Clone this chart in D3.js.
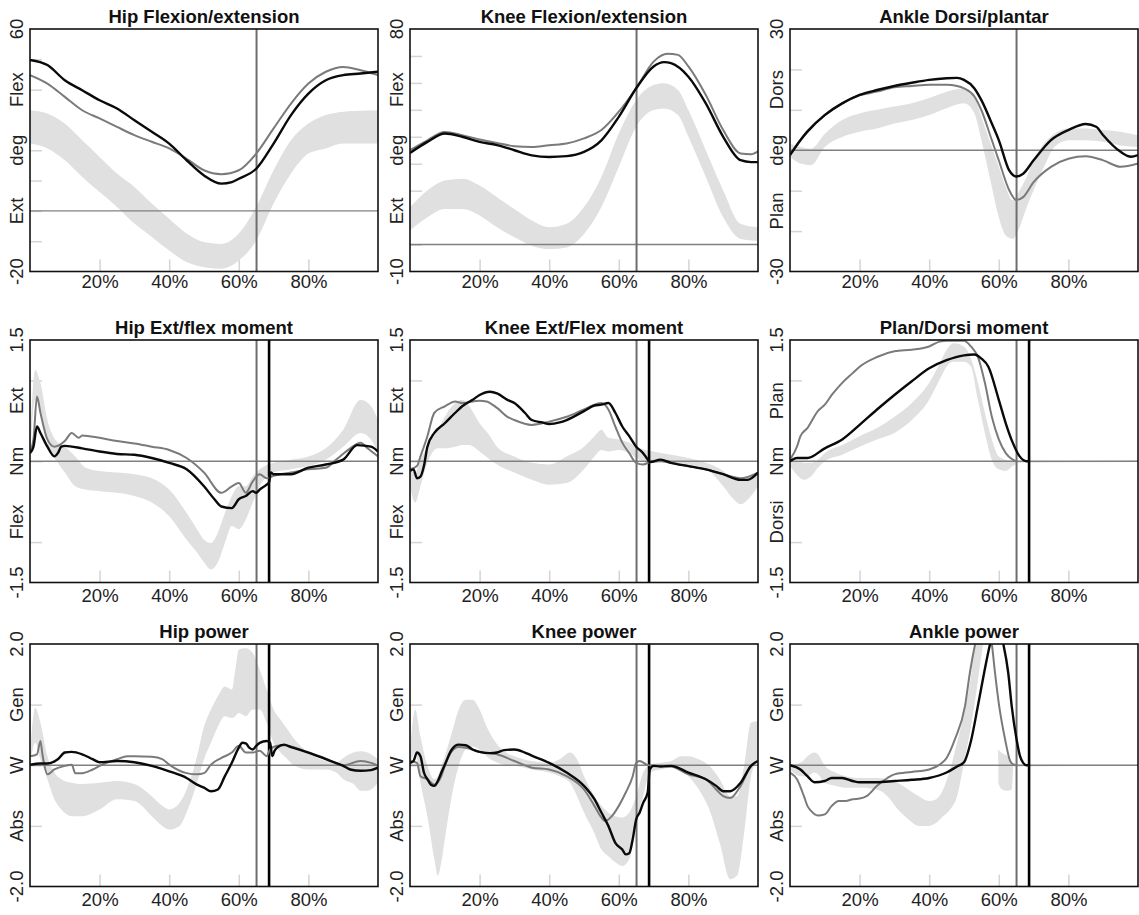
<!DOCTYPE html>
<html>
<head>
<meta charset="utf-8">
<script src="https://cdn.jsdelivr.net/npm/d3@7"></script>
<style>
  body { margin: 0; background: #fff; }
  svg { display: block; }
  text { font-family: "Liberation Sans", Arial, Helvetica, sans-serif; }
</style>
</head>
<body>
<svg id="chart" width="1139" height="915"></svg>
<script>
// ---- Gait cycle data: x = % of gait cycle ----
// Bands are [x, lower, upper] of the normative range; lines are [x, value].

const titles = [
  "Hip Flexion/extension", "Knee Flexion/extension", "Ankle Dorsi/plantar",
  "Hip Ext/flex moment", "Knee Ext/Flex moment", "Plan/Dorsi moment",
  "Hip power", "Knee power", "Ankle power"
];

const xTickValues = [20, 40, 60, 80];
const xTickLabels = ["20%", "40%", "60%", "80%"];

// y labels from top to bottom of each panel
const hipFlexLabels   = ["60", "Flex", "deg", "Ext", "-20"];
const kneeFlexLabels  = ["80", "Flex", "deg", "Ext", "-10"];
const ankleFlexLabels = ["30", "Dors", "deg", "Plan", "-30"];
const hipMomLabels    = ["1.5", "Ext", "Nm", "Flex", "-1.5"];
const kneeMomLabels   = ["1.5", "Ext", "Nm", "Flex", "-1.5"];
const ankleMomLabels  = ["1.5", "Plan", "Nm", "Dorsi", "-1.5"];
const powerLabels     = ["2.0", "Gen", "W", "Abs", "-2.0"];

const hipFlexDomain = [-20, 60], kneeFlexDomain = [-10, 80], ankleFlexDomain = [-30, 30];
const momentDomain = [-1.5, 1.5], powerDomain = [-2, 2];

const hipFlexTicks = [-10, 0, 10, 20, 30, 40, 50];
const kneeFlexTicks = [0, 10, 20, 30, 40, 50, 60, 70];
const ankleFlexTicks = [-20, -10, 0, 10, 20];
const momentTicks = [-1, 0, 1];
const powerTicks = [-1, 0, 1];

// events (% gait cycle): toe-off of the two trials
const toeOffGray = 65.1;
const toeOffBlack = 68.7;

// ---- Hip flexion/extension (deg) ----
const hipFlexBand = [
  [0,22.2,33.2],[5,20.6,32.1],[10,16.7,28.8],[15,11.2,23.3],[20,6.2,17.8],[25,1.3,12.3],
  [30,-4.2,7.9],[35,-8.6,2.4],[40,-13.1,-2.6],[45,-16.9,-7.5],[50,-18.6,-10.3],[55,-19.1,-10.9],
  [60,-16.4,-7.5],[65,-9.8,1.3],[70,2.4,13.4],[75,12.3,23.3],[80,18.9,28.8],[85,20.6,31.6],
  [90,22.2,32.7],[95,22.2,33.0],[100,22.2,33.2]
];
const hipFlexBlack = [
  [0,49.8],[5,48.1],[10,43.1],[15,39.8],[20,36.5],[25,33.8],[30,29.9],[35,26.1],[40,22.2],
  [45,16.7],[50,11.7],[55,9.0],[58,9.5],[60,10.6],[65,13.9],[70,22.2],[75,31.6],[80,38.7],
  [85,43.1],[90,44.8],[95,45.3],[100,45.9]
];
const hipFlexGray = [
  [0,44.8],[5,42.0],[10,37.6],[15,33.2],[20,30.5],[25,27.7],[30,25.0],[35,22.8],[40,20.6],
  [45,17.2],[50,13.4],[55,12.1],[60,13.4],[65,18.9],[70,27.2],[75,35.4],[80,42.0],[85,45.9],
  [90,47.5],[95,46.4],[100,44.8]
];

// ---- Knee flexion/extension (deg) ----
const kneeFlexBand = [
  [0,5.2,13.9],[5,10.1,20.1],[10,13.2,23.8],[15,13.2,24.4],[20,10.8,21.9],[25,6.4,17.6],
  [30,2.7,13.2],[35,-0.4,8.9],[40,-1.7,6.4],[45,-1.1,7.7],[50,3.9,13.9],[55,13.9,25.1],
  [60,28.8,41.2],[65,43.7,53.6],[70,49.9,59.2],[73,50.5,59.9],[77,48.1,57.4],[80,40.0,49.9],
  [85,25.1,35.0],[90,10.1,20.1],[95,2.1,7.7],[100,1.4,6.4]
];
const kneeFlexBlack = [
  [0,34.0],[5,38.1],[10,41.2],[15,40.0],[20,38.1],[25,36.9],[30,35.0],[35,33.1],[40,32.5],
  [45,32.8],[50,34.4],[55,38.7],[60,47.4],[65,58.0],[70,66.1],[73,67.7],[75,67.3],[80,62.3],
  [85,52.4],[90,40.0],[95,31.3],[98,30.6],[100,30.6]
];
const kneeFlexGray = [
  [0,35.0],[5,38.7],[10,41.8],[15,40.6],[20,39.0],[25,37.7],[30,36.5],[35,36.2],[40,36.9],
  [45,37.5],[50,39.4],[55,42.5],[60,49.3],[65,58.0],[70,67.9],[74,70.8],[77,70.4],[80,66.1],
  [85,55.5],[90,42.5],[95,33.8],[98,33.5],[100,34.6]
];

// ---- Ankle dorsi/plantar flexion (deg) ----
const ankleFlexBand = [
  [0,-1.6,1.7],[3,-3.3,0.8],[6,-3.7,0.4],[10,0.8,4.1],[15,3.3,7.5],[20,4.6,9.1],[25,5.4,10.0],
  [30,6.6,10.8],[35,7.5,11.6],[40,8.7,12.9],[45,10.4,14.5],[50,11.6,15.3],[53,9.1,13.3],
  [55,2.5,8.3],[58,-9.1,0.8],[60,-16.6,-4.1],[62,-21.1,-9.1],[64,-21.9,-12.4],[66,-19.0,-9.9],
  [68,-14.1,-6.6],[70,-9.9,-2.5],[73,-4.1,1.7],[76,0.8,4.1],[80,2.5,5.4],[85,2.5,5.4],
  [90,2.1,5.0],[95,1.2,4.6],[100,0.8,3.7]
];
const ankleFlexBlack = [
  [0,-1.2],[3,2.5],[5,4.6],[10,8.7],[15,11.6],[20,13.7],[25,14.9],[30,15.9],[35,16.7],
  [40,17.4],[45,17.8],[48,17.9],[50,17.4],[53,15.3],[55,12.4],[58,6.6],[60,2.5],[63,-5.0],
  [65,-6.5],[67,-5.8],[70,-2.5],[75,2.5],[80,5.0],[85,6.5],[88,5.8],[90,3.7],[95,-0.4],
  [98,-1.6],[100,-1.2]
];
const ankleFlexGray = [
  [0,-1.0],[3,2.6],[5,4.7],[10,8.8],[15,11.6],[20,13.6],[25,14.5],[30,15.6],[35,15.9],
  [40,16.2],[45,16.2],[48,15.9],[50,15.3],[53,13.3],[55,9.9],[58,2.5],[60,-2.5],[63,-9.9],
  [65,-12.3],[67,-11.6],[70,-7.9],[75,-4.1],[80,-2.1],[85,-1.5],[90,-2.5],[95,-4.1],[100,-3.3]
];

// ---- Hip extension/flexion moment (Nm) ----
const hipMomBand = [
  [0,0.06,0.27],[1.5,0.76,1.13],[3,0.64,0.97],[5,0.23,0.51],[8,-0.02,0.23],[10,-0.14,0.18],
  [13,-0.31,0.06],[16,-0.35,-0.08],[20,-0.37,-0.12],[25,-0.39,-0.14],[30,-0.43,-0.16],
  [35,-0.51,-0.21],[40,-0.68,-0.35],[45,-0.97,-0.64],[48,-1.13,-0.84],[50,-1.25,-0.97],
  [52,-1.34,-1.01],[54,-1.25,-0.88],[56,-1.01,-0.64],[58,-0.80,-0.43],[60,-0.84,-0.31],
  [62,-0.72,-0.31],[64,-0.51,-0.19],[66,-0.31,-0.10],[70,-0.14,-0.02],[75,-0.10,0.02],
  [80,-0.06,0.06],[85,0.02,0.16],[90,0.18,0.39],[95,0.35,0.76],[98,0.27,0.68],[100,0.10,0.51]
];
const hipMomBlack = [
  [0,0.10],[1,0.18],[2,0.43],[3,0.35],[5,0.18],[7,0.06],[8,0.10],[9,0.18],[10,0.19],[15,0.16],
  [20,0.12],[25,0.09],[30,0.08],[35,0.04],[40,-0.02],[45,-0.10],[50,-0.31],[53,-0.47],
  [55,-0.56],[58,-0.58],[60,-0.47],[62,-0.43],[64,-0.37],[65,-0.39],[66,-0.35],[68,-0.29],
  [68.7,-0.26],[69.2,-0.14],[70,-0.16],[75,-0.16],[80,-0.08],[85,-0.04],[90,0.02],[94,0.20],
  [98,0.18],[100,0.12]
];
const hipMomGray = [
  [0,0.12],[1,0.27],[2,0.80],[3,0.60],[5,0.27],[7,0.18],[10,0.25],[12,0.35],[14,0.29],
  [15,0.32],[20,0.29],[25,0.25],[30,0.22],[35,0.18],[40,0.14],[45,0.04],[50,-0.14],
  [55,-0.39],[58,-0.31],[60,-0.27],[62,-0.39],[64,-0.25],[66,-0.16],[68,-0.21],[70,-0.18],
  [75,-0.14],[80,-0.10],[85,-0.08],[88,0.02],[92,0.16],[95,0.23],[97,0.16],[100,0.06]
];

// ---- Knee extension/flexion moment (Nm) ----
const kneeMomBand = [
  [0,-0.31,-0.10],[1.5,-0.51,-0.14],[3,-0.31,0.02],[5,-0.02,0.18],[8,0.16,0.39],[10,0.16,0.55],
  [13,0.18,0.72],[15,0.20,0.76],[17,0.20,0.68],[20,0.12,0.47],[23,0.02,0.31],[25,-0.04,0.18],
  [30,-0.14,0.06],[35,-0.23,-0.02],[40,-0.29,-0.04],[45,-0.27,0.06],[50,-0.10,0.18],
  [53,0.06,0.31],[55,0.14,0.39],[57,0.12,0.29],[60,0.14,0.27],[63,0.10,0.23],[66,0.02,0.16],
  [70,0.00,0.12],[75,-0.02,0.08],[80,-0.06,0.04],[85,-0.10,-0.02],[90,-0.31,-0.12],
  [93,-0.47,-0.23],[95,-0.53,-0.23],[98,-0.43,-0.19],[100,-0.31,-0.14]
];
const kneeMomBlack = [
  [0,-0.12],[1,-0.10],[2,-0.21],[3,-0.19],[4,-0.06],[5,0.18],[7,0.35],[10,0.47],[13,0.60],
  [15,0.68],[18,0.76],[20,0.82],[23,0.86],[25,0.84],[28,0.76],[30,0.72],[33,0.60],[35,0.51],
  [38,0.48],[40,0.46],[43,0.48],[45,0.51],[50,0.62],[53,0.69],[55,0.70],[57,0.72],[59,0.60],
  [61,0.43],[63,0.31],[65,0.18],[67,0.10],[68,0.04],[69,-0.01],[72,0.02],[75,-0.02],
  [80,-0.06],[85,-0.10],[90,-0.16],[95,-0.23],[97,-0.23],[100,-0.14]
];
const kneeMomGray = [
  [0,-0.10],[2,-0.06],[3,0.06],[5,0.31],[7,0.60],[10,0.68],[13,0.74],[15,0.72],[20,0.75],
  [22,0.74],[25,0.66],[28,0.55],[30,0.51],[35,0.45],[40,0.49],[45,0.55],[50,0.64],[55,0.72],
  [57,0.64],[59,0.43],[61,0.23],[63,0.10],[65,-0.02],[67,-0.04],[69,-0.01],[72,0.00],
  [75,-0.02],[80,-0.06],[85,-0.10],[90,-0.16],[95,-0.21],[100,-0.14]
];

// ---- Ankle plantar/dorsi flexion moment (Nm); traces stop once the foot is off the ground ----
const ankleMomBand = [
  [0,-0.06,0.02],[2,-0.17,0.00],[4,-0.23,-0.02],[6,-0.19,-0.02],[8,-0.08,0.02],[10,0.00,0.10],
  [15,0.08,0.20],[20,0.18,0.31],[25,0.27,0.41],[30,0.35,0.55],[35,0.51,0.72],[40,0.76,0.97],
  [43,1.01,1.21],[45,1.17,1.38],[47,1.23,1.46],[50,1.23,1.42],[52,1.17,1.27],[54,0.76,0.97],
  [56,0.35,0.60],[58,0.02,0.27],[60,-0.10,0.06],[62,-0.12,0.02],[64,-0.06,0.00],
  [66,-0.02,0.00],[100,-0.01,0.01]
];
const ankleMomBlack = [
  [0,0.00],[2,0.04],[5,0.04],[10,0.16],[15,0.27],[20,0.45],[25,0.64],[30,0.82],[35,0.99],
  [40,1.15],[45,1.25],[50,1.31],[53,1.32],[55,1.27],[57,1.17],[60,0.76],[62,0.47],[64,0.23],
  [66,0.06],[68,0.00],[68.7,0.00]
];
const ankleMomGray = [
  [0,0.02],[2,0.18],[3,0.31],[5,0.41],[8,0.62],[10,0.70],[12,0.82],[15,0.97],[18,1.09],
  [20,1.17],[25,1.29],[30,1.36],[35,1.38],[40,1.42],[43,1.48],[45,1.49],[50,1.49],[52,1.42],
  [54,1.29],[56,0.97],[58,0.55],[60,0.27],[62,0.10],[64,0.02],[65.1,0.00]
];

// ---- Hip power (W) ----
const hipPowBand = [
  [0,-0.01,0.21],[1.5,0.37,0.95],[3,0.10,0.70],[5,-0.23,0.15],[7,-0.56,-0.12],[9,-0.73,-0.23],
  [12,-0.84,-0.29],[15,-0.84,-0.31],[20,-0.73,-0.29],[25,-0.56,-0.26],[30,-0.59,-0.31],
  [35,-0.84,-0.51],[38,-1.00,-0.67],[40,-1.06,-0.73],[43,-1.00,-0.62],[45,-0.78,-0.40],
  [48,-0.29,0.15],[50,0.10,0.64],[52,0.37,0.92],[54,0.64,1.14],[56,0.81,1.30],[58,0.78,1.25],
  [59,0.81,1.58],[60,0.86,1.91],[62,0.81,1.93],[64,0.92,1.85],[66,0.92,1.58],[68,0.70,1.25],
  [70,0.37,0.92],[72,0.21,0.75],[74,0.10,0.59],[76,-0.01,0.43],[80,-0.07,0.21],[85,-0.07,0.07],
  [88,-0.12,0.04],[90,-0.23,0.12],[93,-0.31,0.21],[95,-0.42,0.23],[97,-0.42,0.21],[100,-0.29,0.10]
];
const hipPowBlack = [
  [0,0.01],[3,0.03],[5,0.03],[8,0.10],[10,0.21],[12,0.22],[15,0.18],[18,0.10],[20,0.05],
  [25,0.07],[30,0.05],[35,-0.01],[40,-0.10],[45,-0.21],[48,-0.32],[50,-0.37],[52,-0.43],
  [54,-0.40],[56,-0.18],[58,0.04],[60,0.29],[61,0.37],[62,0.36],[63,0.29],[64,0.26],[65,0.32],
  [66,0.37],[68,0.40],[69,0.37],[69.6,0.15],[70.3,0.24],[71,0.29],[73,0.34],[75,0.30],
  [80,0.21],[85,0.10],[90,-0.01],[92,-0.07],[95,-0.09],[98,-0.08],[100,-0.04]
];
const hipPowGray = [
  [0,0.15],[2,0.18],[3,0.40],[3.5,0.21],[4,0.04],[5,-0.15],[7,-0.07],[10,-0.01],[12,0.01],
  [13,-0.13],[15,-0.13],[18,-0.07],[20,-0.01],[25,0.10],[28,0.15],[30,0.15],[35,0.14],
  [38,0.10],[40,0.01],[45,-0.13],[48,-0.15],[50,-0.13],[52,0.01],[55,0.12],[58,0.21],
  [60,0.32],[62,0.21],[64,0.21],[66,0.24],[68,0.15],[69,0.26],[71,0.32],[73,0.33],[75,0.31],
  [80,0.21],[85,0.11],[90,0.00],[95,0.07],[98,0.04],[100,-0.01]
];

// ---- Knee power (W) ----
const kneePowBand = [
  [0,-0.01,0.26],[1.5,0.21,0.92],[3,-0.29,0.48],[5,-0.84,-0.01],[7,-1.55,-0.23],[8,-1.82,-0.18],
  [9,-1.60,-0.01],[10,-1.22,0.15],[12,-0.51,0.53],[14,-0.01,0.92],[16,0.26,1.08],[18,0.31,1.08],
  [20,0.26,0.92],[22,0.15,0.64],[24,0.07,0.43],[27,0.01,0.23],[30,-0.01,0.15],[35,-0.07,0.07],
  [40,-0.12,0.04],[43,-0.18,0.10],[46,-0.29,0.21],[48,-0.51,0.10],[50,-0.78,-0.18],
  [53,-1.12,-0.51],[55,-1.39,-0.67],[57,-1.50,-0.78],[59,-1.60,-0.84],[61,-1.66,-0.86],
  [63,-1.55,-0.78],[65,-1.00,-0.51],[67,-0.51,-0.12],[69,-0.12,0.01],[72,-0.07,0.04],
  [75,-0.04,0.07],[78,-0.07,0.15],[80,-0.18,0.15],[83,-0.40,0.10],[86,-0.73,-0.01],
  [89,-1.28,-0.23],[92,-1.88,-0.51],[94,-1.82,-0.51],[96,-1.12,-0.01],[98,-0.18,0.70],
  [100,0.10,0.73]
];
const kneePowBlack = [
  [0,0.04],[1,0.07],[2,0.21],[3,0.15],[4,-0.12],[5,-0.23],[6,-0.32],[7,-0.34],[8,-0.26],
  [9,-0.12],[10,0.01],[12,0.26],[14,0.34],[16,0.33],[18,0.26],[20,0.22],[23,0.20],[25,0.21],
  [27,0.25],[30,0.26],[33,0.21],[35,0.16],[40,0.04],[45,-0.12],[50,-0.34],[53,-0.56],
  [55,-0.78],[57,-1.00],[59,-1.28],[61,-1.39],[62,-1.47],[63,-1.45],[64,-1.22],[65,-0.89],
  [66,-0.78],[67,-0.62],[68.3,-0.45],[68.9,-0.07],[70,-0.01],[72,-0.02],[75,-0.01],[80,-0.12],
  [85,-0.23],[88,-0.34],[90,-0.43],[92,-0.43],[95,-0.29],[98,-0.01],[100,0.07]
];
const kneePowGray = [
  [0,0.07],[2,0.04],[3,-0.18],[5,-0.23],[7,-0.32],[9,-0.18],[10,-0.01],[12,0.23],[14,0.30],
  [16,0.29],[20,0.22],[25,0.18],[30,0.07],[35,-0.04],[40,-0.07],[45,-0.18],[50,-0.40],
  [53,-0.67],[55,-0.86],[56,-0.92],[58,-0.84],[60,-0.67],[62,-0.45],[64,-0.18],[65,0.04],
  [66,0.07],[68,0.01],[70,-0.01],[75,-0.02],[80,-0.15],[85,-0.23],[88,-0.40],[90,-0.51],
  [92,-0.54],[95,-0.34],[98,-0.01],[100,0.07]
];

// ---- Ankle power (W); traces stop once the foot is off the ground ----
const anklePowBand = [
  [0,-0.07,0.01],[3,-0.18,0.04],[5,-0.18,0.15],[7,-0.12,0.21],[8,-0.15,0.18],[10,-0.29,-0.01],
  [13,-0.34,-0.12],[16,-0.37,-0.18],[20,-0.37,-0.21],[25,-0.40,-0.21],[28,-0.51,-0.23],
  [31,-0.73,-0.29],[34,-0.89,-0.40],[37,-1.00,-0.51],[40,-1.00,-0.59],[42,-0.95,-0.56],
  [44,-0.84,-0.40],[46,-0.73,-0.07],[48,-0.51,0.37],[50,0.04,0.86],[52,0.64,1.47],
  [53.5,1.19,2.2],[55,1.8,2.6],[56,2.1,2.8],[59.3,2.1,2.6],[59.8,2.05,2.1],[59.9,-0.30,0.26],
  [61,-0.40,0.20],[62.5,-0.42,0.15],[63.7,-0.40,0.05],[64.2,-0.02,0.01],[100,-0.01,0.01]
];
const anklePowBlack = [
  [0,0.00],[3,-0.07],[5,-0.18],[7,-0.28],[10,-0.26],[12,-0.21],[15,-0.21],[18,-0.26],
  [20,-0.28],[25,-0.28],[30,-0.26],[35,-0.24],[40,-0.21],[45,-0.12],[48,-0.02],[50,0.05],
  [52,0.40],[54,0.98],[55.8,1.53],[57.5,2.0],[59.4,2.35],[61.3,2.0],[62.7,1.53],[63.7,0.98],
  [65.1,0.43],[66.1,0.15],[67,0.04],[68,0.00],[68.7,0.00]
];
const anklePowGray = [
  [0,-0.12],[2,-0.23],[4,-0.51],[5,-0.67],[6,-0.75],[8,-0.83],[10,-0.81],[12,-0.67],
  [14,-0.59],[16,-0.59],[18,-0.56],[20,-0.55],[22,-0.51],[25,-0.34],[28,-0.21],[30,-0.15],
  [35,-0.11],[40,-0.07],[43,0.01],[45,0.12],[47.4,0.43],[50.3,0.98],[51.7,1.53],[53.2,2.0],
  [55.5,2.5],[58,2.0],[58.9,1.53],[60.1,0.98],[61.8,0.43],[63.2,0.08],[64,0.02],[65.1,0.00]
];

// ---- Panel assembly ----
const panels = [
  { domain: hipFlexDomain,   ticks: hipFlexTicks,   labels: hipFlexLabels,   band: hipFlexBand,   gray: hipFlexGray,   black: hipFlexBlack,   events: [toeOffGray] },
  { domain: kneeFlexDomain,  ticks: kneeFlexTicks,  labels: kneeFlexLabels,  band: kneeFlexBand,  gray: kneeFlexGray,  black: kneeFlexBlack,  events: [toeOffGray] },
  { domain: ankleFlexDomain, ticks: ankleFlexTicks, labels: ankleFlexLabels, band: ankleFlexBand, gray: ankleFlexGray, black: ankleFlexBlack, events: [toeOffGray] },
  { domain: momentDomain, ticks: momentTicks, labels: hipMomLabels,   band: hipMomBand,   gray: hipMomGray,   black: hipMomBlack,   events: [toeOffGray, toeOffBlack] },
  { domain: momentDomain, ticks: momentTicks, labels: kneeMomLabels,  band: kneeMomBand,  gray: kneeMomGray,  black: kneeMomBlack,  events: [toeOffGray, toeOffBlack] },
  { domain: momentDomain, ticks: momentTicks, labels: ankleMomLabels, band: ankleMomBand, gray: ankleMomGray, black: ankleMomBlack, events: [toeOffGray, toeOffBlack] },
  { domain: powerDomain, ticks: powerTicks, labels: powerLabels, band: hipPowBand,   gray: hipPowGray,   black: hipPowBlack,   events: [toeOffGray, toeOffBlack] },
  { domain: powerDomain, ticks: powerTicks, labels: powerLabels, band: kneePowBand,  gray: kneePowGray,  black: kneePowBlack,  events: [toeOffGray, toeOffBlack] },
  { domain: powerDomain, ticks: powerTicks, labels: powerLabels, band: anklePowBand, gray: anklePowGray, black: anklePowBlack, events: [toeOffGray, toeOffBlack] }
];

// ---- Layout ----
const colLeft = [30, 410, 790];
const rowTop = [29, 340, 644];
const plotW = 348, plotH = 242.5;
const titleBaseline = [23, 333.5, 638];
const xLabelPad = [3.5, 6.5, 6];

const svg = d3.select("#chart");

const x = d3.scaleLinear().domain([0, 100]).range([0, plotW]);

panels.forEach((p, i) => {
  const row = Math.floor(i / 3), col = i % 3;
  const g = svg.append("g").attr("transform", `translate(${colLeft[col]},${rowTop[row]})`);
  const y = d3.scaleLinear().domain(p.domain).range([plotH, 0]);

  const clipId = "clip" + i;
  g.append("clipPath").attr("id", clipId)
    .append("rect").attr("width", plotW).attr("height", plotH);

  // title
  g.append("text")
    .attr("x", plotW / 2)
    .attr("y", titleBaseline[row] - rowTop[row])
    .attr("text-anchor", "middle")
    .attr("font-weight", "bold")
    .attr("font-size", 18.5)
    .attr("fill", "#111")
    .text(titles[i]);

  // inner tick marks and x labels
  const xAxis = g.append("g")
    .attr("transform", `translate(0,${plotH})`)
    .call(d3.axisBottom(x).tickValues(xTickValues)
      .tickFormat((d, k) => xTickLabels[k])
      .tickSize(-12).tickPadding(xLabelPad[row]));
  xAxis.select(".domain").remove();
  xAxis.selectAll("line").attr("stroke", "#d4d4d4").attr("stroke-width", 1.5);
  xAxis.selectAll("text")
    .attr("y", xLabelPad[row])
    .attr("font-size", 18.5)
    .attr("font-family", "'Liberation Sans', Arial, sans-serif")
    .attr("fill", "#222");

  const yAxis = g.append("g")
    .call(d3.axisLeft(y).tickValues(p.ticks).tickFormat("").tickSize(-12));
  yAxis.select(".domain").remove();
  yAxis.selectAll("line").attr("stroke", "#d4d4d4").attr("stroke-width", 1.5);

  // rotated y labels at the top, quarter, middle, three-quarter and bottom positions
  const [lo, hi] = p.domain;
  p.labels.forEach((lab, k) => {
    const v = hi - (hi - lo) * k / 4;
    g.append("text")
      .attr("transform", `translate(-13.5,${y(v)}) rotate(-90)`)
      .attr("text-anchor", "middle")
      .attr("dy", "0.36em")
      .attr("font-size", 18.5)
      .attr("fill", "#222")
      .text(lab);
  });

  const plot = g.append("g").attr("clip-path", `url(#${clipId})`);

  // normative band
  plot.append("path")
    .datum(p.band)
    .attr("fill", "#e0e0e0")
    .attr("d", d3.area()
      .x(d => x(d[0])).y0(d => y(d[1])).y1(d => y(d[2]))
      .curve(d3.curveMonotoneX));

  // zero line
  plot.append("line")
    .attr("x1", 0).attr("x2", plotW)
    .attr("y1", y(0)).attr("y2", y(0))
    .attr("stroke", "#808080").attr("stroke-width", 1.4);

  // toe-off markers
  p.events.forEach((e, k) => {
    plot.append("line")
      .attr("x1", x(e)).attr("x2", x(e))
      .attr("y1", 0).attr("y2", plotH)
      .attr("stroke", k === 0 ? "#6e6e6e" : "#000")
      .attr("stroke-width", k === 0 ? 2 : 2.6);
  });

  const line = d3.line().x(d => x(d[0])).y(d => y(d[1])).curve(d3.curveMonotoneX);

  plot.append("path").datum(p.gray)
    .attr("fill", "none").attr("stroke", "#7a7a7a")
    .attr("stroke-width", 2).attr("stroke-linejoin", "round")
    .attr("d", line);

  plot.append("path").datum(p.black)
    .attr("fill", "none").attr("stroke", "#0a0a0a")
    .attr("stroke-width", 2.4).attr("stroke-linejoin", "round")
    .attr("d", line);

  // frame
  g.append("rect")
    .attr("width", plotW).attr("height", plotH)
    .attr("fill", "none").attr("stroke", "#111").attr("stroke-width", 1.6);
});
</script>
</body>
</html>
